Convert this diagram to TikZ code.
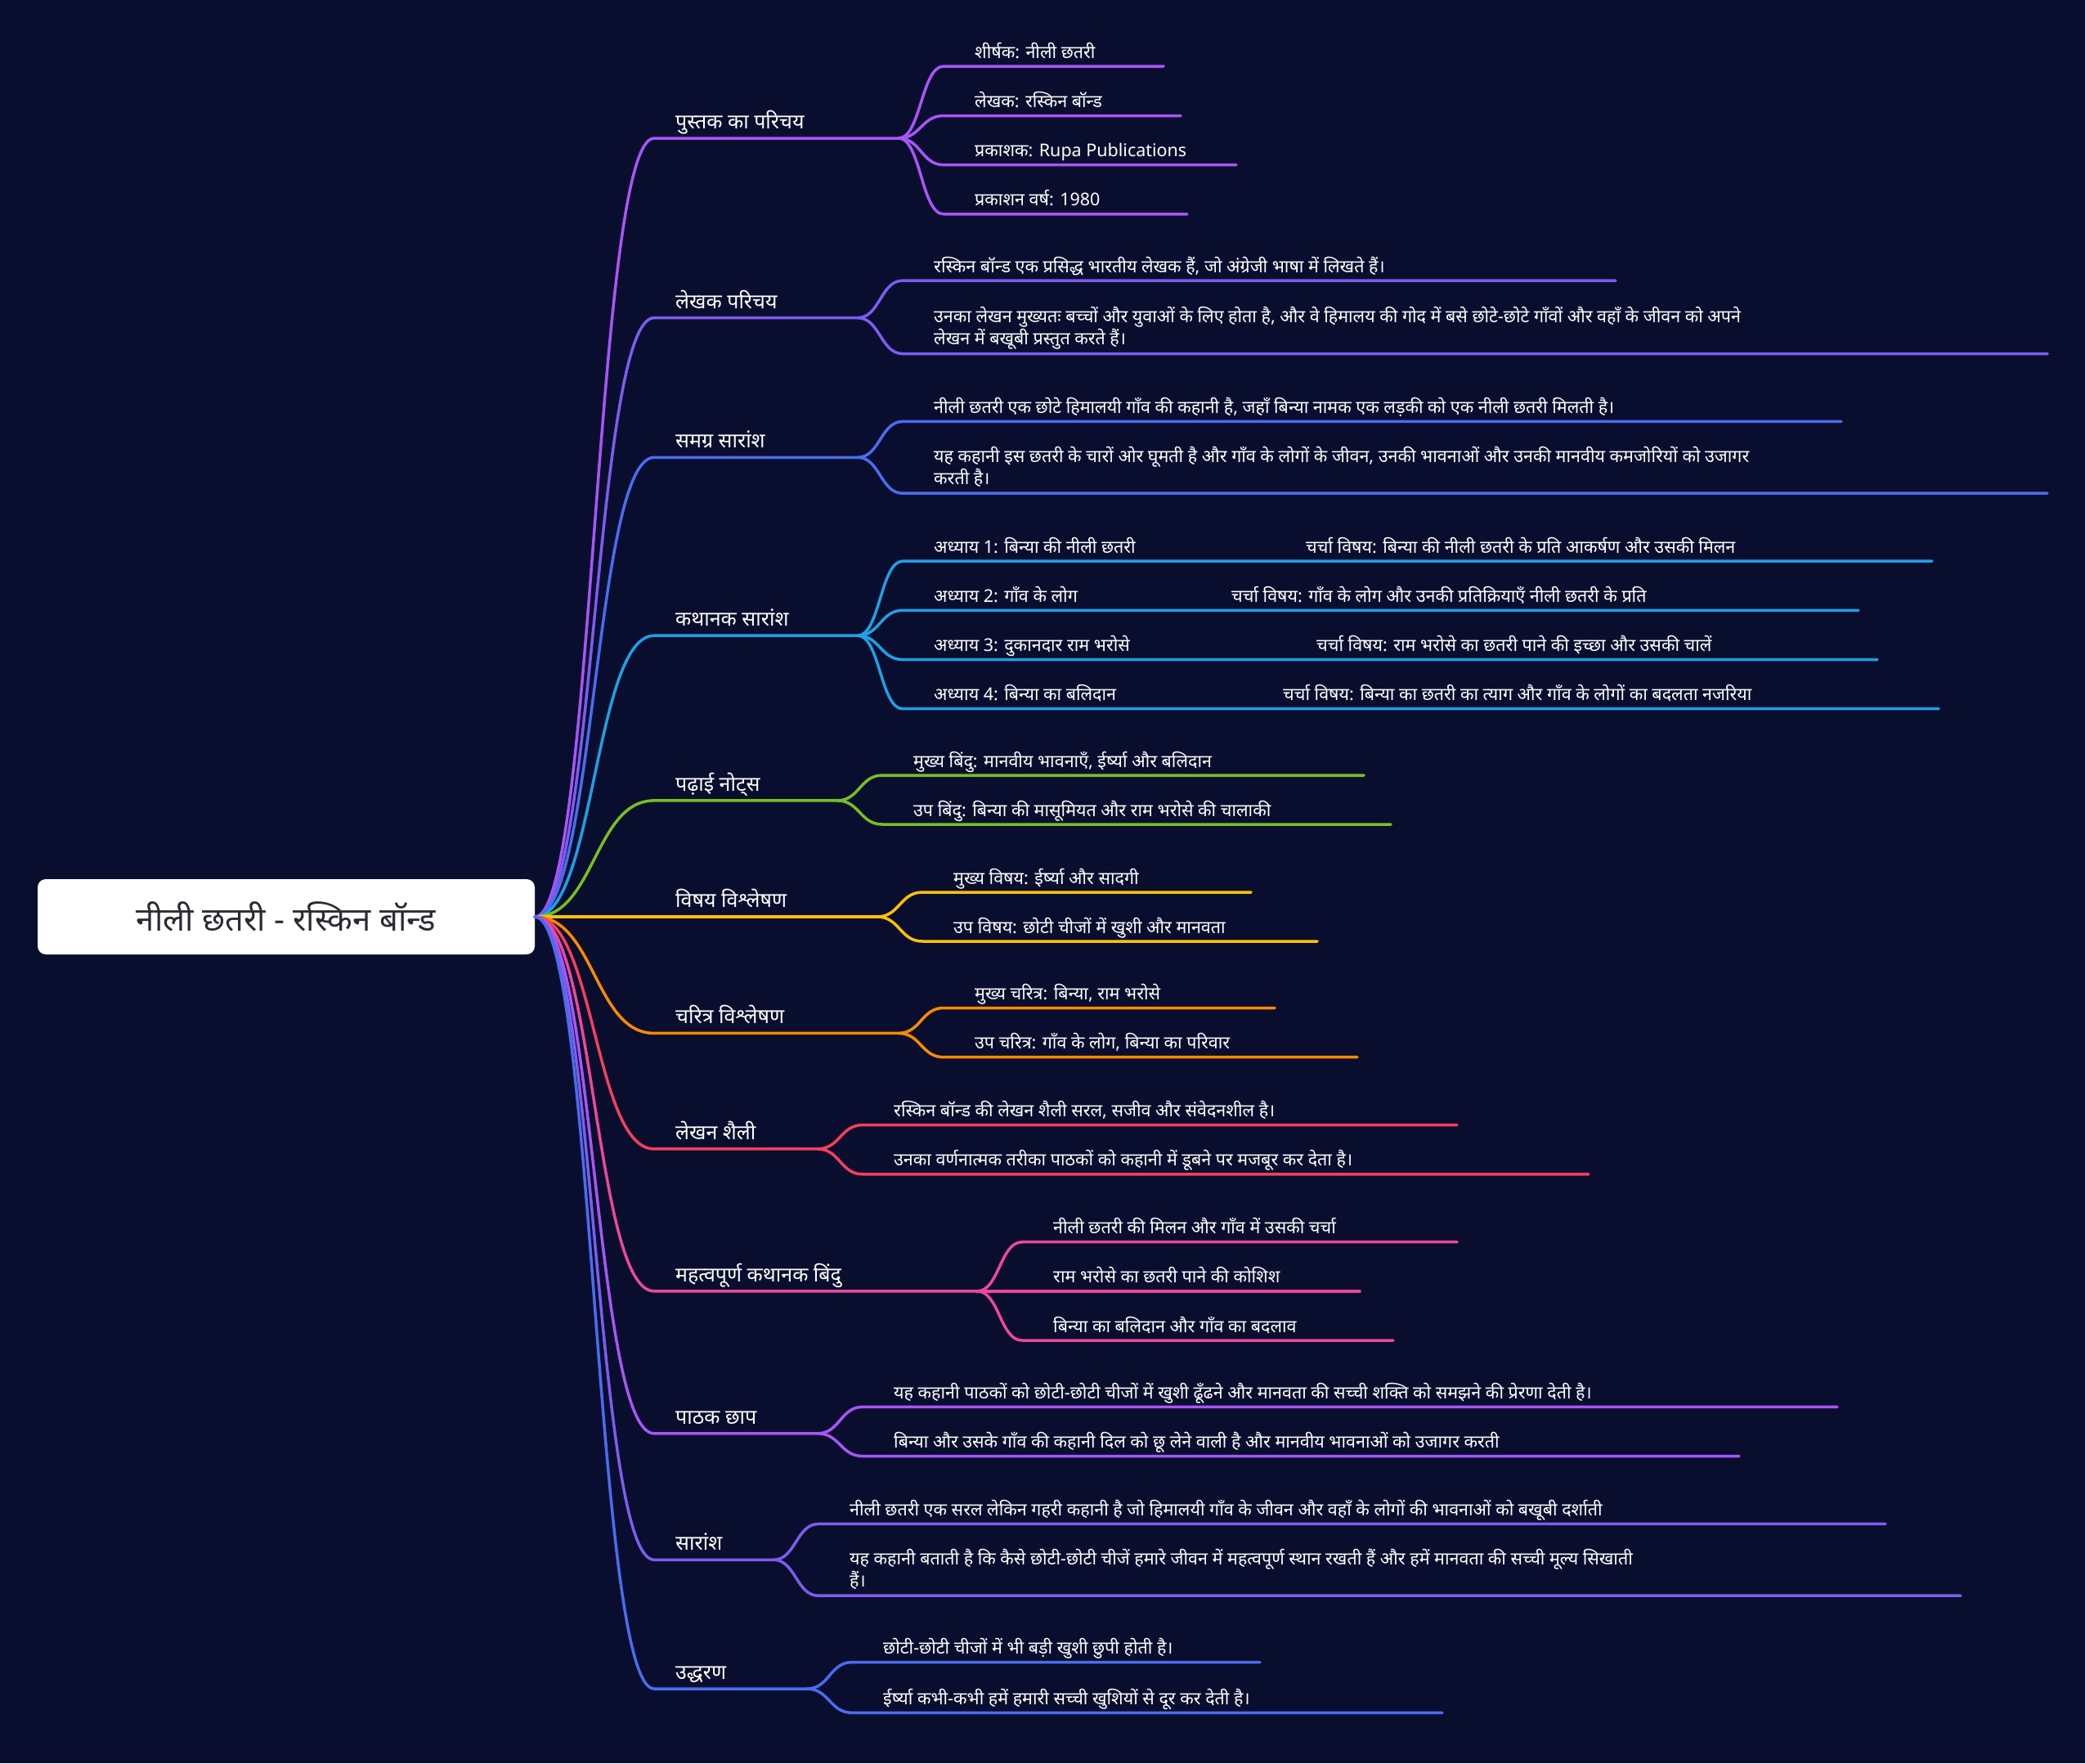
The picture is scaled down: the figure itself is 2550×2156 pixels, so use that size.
\documentclass[tikz,border=0pt]{standalone}
\usepackage{fontspec}
\newfontfamily\hin[Script=Devanagari]{Noto Sans}
\usetikzlibrary{calc}
\definecolor{bgc}{HTML}{0A0E2E}
\definecolor{rootc}{HTML}{2B2B33}
\definecolor{cA}{HTML}{A855F7}
\definecolor{cB}{HTML}{7C5CF0}
\definecolor{cC}{HTML}{4A6CF0}
\definecolor{cD}{HTML}{1EA0E6}
\definecolor{cE}{HTML}{76C023}
\definecolor{cF}{HTML}{FFC107}
\definecolor{cG}{HTML}{FF8A00}
\definecolor{cH}{HTML}{F43F5E}
\definecolor{cI}{HTML}{EC4899}
\definecolor{cJ}{HTML}{A855F7}
\definecolor{cK}{HTML}{7C5CF0}
\definecolor{cL}{HTML}{4A6CF0}
\tikzset{
  rootbox/.style={fill=white, rounded corners=10pt, minimum width=608pt, minimum height=92pt, inner sep=0pt,
    font=\hin\fontsize{40}{48}\selectfont, text=rootc},
  lone/.style={font=\hin\fontsize{25}{30}\selectfont, text=white, anchor=base west, inner sep=0pt},
  ltwo/.style={font=\hin\fontsize{21.5}{27}\selectfont, text=white, anchor=base west, inner sep=0pt},
  conn/.style={line width=3.5pt, line cap=round}
}
% level-1 branch: name, colour, underline y, fork x, text
\newcommand\brOne[5]{%
  \node[lone] (#1) at (826,#3-11.5) {#5};
  \coordinate (#1s) at (800,#3);
  \coordinate (#1f) at (#4,#3);
  \draw[conn,#2] (root.east) .. controls +(73,0) and +(-73,0) .. (#1s) -- (#1f);
}
% child: parent, name, colour, y, text, end x
\newcommand\chOne[6]{%
  \coordinate (#2s) at ($(#1f |- 0,#4)+(55,0)$);
  \node[ltwo] (#2) at ($(#2s)+(38,-10)$) {#5};
  \coordinate (#2e) at (#6,#4);
  \draw[conn,#3] (#1f) .. controls +(27,0) and +(-27,0) .. (#2s) -- (#2e);
}
% two-line child: parent, name, colour, y, line1, line2, end x
\newcommand\chTwo[7]{%
  \coordinate (#2s) at ($(#1f |- 0,#4)+(55,0)$);
  \node[ltwo] (#2) at ($(#2s)+(38,-38)$) {#5};
  \node[ltwo] (#2b) at ($(#2s)+(38,-11)$) {#6};
  \coordinate (#2e) at (#7,#4);
  \draw[conn,#3] (#1f) .. controls +(27,0) and +(-27,0) .. (#2s) -- (#2e);
}
% child with grandchild on same line: parent, name, colour, y, text, grandchild x, grandchild text, end x
\newcommand\chGrand[8]{%
  \coordinate (#2s) at ($(#1f |- 0,#4)+(55,0)$);
  \node[ltwo] (#2) at ($(#2s)+(38,-10)$) {#5};
  \node[ltwo] (#2g) at (#6,#4-10) {#7};
  \coordinate (#2e) at (#8,#4);
  \draw[conn,#3] (#1f) .. controls +(27,0) and +(-27,0) .. (#2s) -- (#2e);
}
\begin{document}
\begin{tikzpicture}[x=1pt,y=-1pt]
\useasboundingbox (0,0) rectangle (2550,2156);
\fill[bgc] (0,0) rectangle (2550,2156);
\node[rootbox] (root) at (350,1121) {नीली छतरी - रस्किन बॉन्ड};

\brOne{bA}{cA}{169}{1099}{पुस्तक का परिचय}
\chOne{bA}{aA}{cA}{81}{शीर्षक: नीली छतरी}{1423}
\chOne{bA}{aB}{cA}{141.5}{लेखक: रस्किन बॉन्ड}{1444}
\chOne{bA}{aC}{cA}{201.6}{प्रकाशक: Rupa Publications}{1512}
\chOne{bA}{aD}{cA}{261.8}{प्रकाशन वर्ष: 1980}{1452}

\brOne{bB}{cB}{388.6}{1049}{लेखक परिचय}
\chOne{bB}{bBa}{cB}{343.1}{रस्किन बॉन्ड एक प्रसिद्ध भारतीय लेखक हैं, जो अंग्रेजी भाषा में लिखते हैं।}{1976}
\chTwo{bB}{bBb}{cB}{432.5}{उनका लेखन मुख्यतः बच्चों और युवाओं के लिए होता है, और वे हिमालय की गोद में बसे छोटे-छोटे गाँवों और वहाँ के जीवन को अपने}{लेखन में बखूबी प्रस्तुत करते हैं।}{2504}

\brOne{bC}{cC}{559.3}{1049}{समग्र सारांश}
\chOne{bC}{bCa}{cC}{515.4}{नीली छतरी एक छोटे हिमालयी गाँव की कहानी है, जहाँ बिन्या नामक एक लड़की को एक नीली छतरी मिलती है।}{2252}
\chTwo{bC}{bCb}{cC}{603.2}{यह कहानी इस छतरी के चारों ओर घूमती है और गाँव के लोगों के जीवन, उनकी भावनाओं और उनकी मानवीय कमजोरियों को उजागर}{करती है।}{2504}

\brOne{bD}{cD}{777.2}{1049}{कथानक सारांश}
\chGrand{bD}{bDa}{cD}{686.2}{अध्याय 1: बिन्या की नीली छतरी}{1597}{चर्चा विषय: बिन्या की नीली छतरी के प्रति आकर्षण और उसकी मिलन}{2363}
\chGrand{bD}{bDb}{cD}{746.3}{अध्याय 2: गाँव के लोग}{1506}{चर्चा विषय: गाँव के लोग और उनकी प्रतिक्रियाएँ नीली छतरी के प्रति}{2273}
\chGrand{bD}{bDc}{cD}{806.5}{अध्याय 3: दुकानदार राम भरोसे}{1610}{चर्चा विषय: राम भरोसे का छतरी पाने की इच्छा और उसकी चालें}{2296}
\chGrand{bD}{bDd}{cD}{866.7}{अध्याय 4: बिन्या का बलिदान}{1569}{चर्चा विषय: बिन्या का छतरी का त्याग और गाँव के लोगों का बदलता नजरिया}{2371}

\brOne{bE}{cE}{978.9}{1024}{पढ़ाई नोट्स}
\chOne{bE}{bEa}{cE}{948}{मुख्य बिंदु: मानवीय भावनाएँ, ईर्ष्या और बलिदान}{1668}
\chOne{bE}{bEb}{cE}{1008}{उप बिंदु: बिन्या की मासूमियत और राम भरोसे की चालाकी}{1701}

\brOne{bF}{cF}{1121}{1073}{विषय विश्लेषण}
\chOne{bF}{bFa}{cF}{1091}{मुख्य विषय: ईर्ष्या और सादगी}{1530}
\chOne{bF}{bFb}{cF}{1151}{उप विषय: छोटी चीजों में खुशी और मानवता}{1611}

\brOne{bG}{cG}{1263.4}{1099}{चरित्र विश्लेषण}
\chOne{bG}{bGa}{cG}{1232.5}{मुख्य चरित्र: बिन्या, राम भरोसे}{1559}
\chOne{bG}{bGb}{cG}{1292.7}{उप चरित्र: गाँव के लोग, बिन्या का परिवार}{1660}

\brOne{bH}{cH}{1404.9}{1000}{लेखन शैली}
\chOne{bH}{bHa}{cH}{1375.6}{रस्किन बॉन्ड की लेखन शैली सरल, सजीव और संवेदनशील है।}{1782}
\chOne{bH}{bHb}{cH}{1435.8}{उनका वर्णनात्मक तरीका पाठकों को कहानी में डूबने पर मजबूर कर देता है।}{1943}

\brOne{bI}{cI}{1578.8}{1195}{महत्वपूर्ण कथानक बिंदु}
\chOne{bI}{bIa}{cI}{1518.7}{नीली छतरी की मिलन और गाँव में उसकी चर्चा}{1782}
\chOne{bI}{bIb}{cI}{1578.8}{राम भरोसे का छतरी पाने की कोशिश}{1663}
\chOne{bI}{bIc}{cI}{1639}{बिन्या का बलिदान और गाँव का बदलाव}{1704}

\brOne{bJ}{cJ}{1752.8}{1000}{पाठक छाप}
\chOne{bJ}{bJa}{cJ}{1720.3}{यह कहानी पाठकों को छोटी-छोटी चीजों में खुशी ढूँढने और मानवता की सच्ची शक्ति को समझने की प्रेरणा देती है।}{2247}
\chOne{bJ}{bJb}{cJ}{1780.5}{बिन्या और उसके गाँव की कहानी दिल को छू लेने वाली है और मानवीय भावनाओं को उजागर करती}{2127}

\brOne{bK}{cK}{1907.3}{946}{सारांश}
\chOne{bK}{bKa}{cK}{1863.4}{नीली छतरी एक सरल लेकिन गहरी कहानी है जो हिमालयी गाँव के जीवन और वहाँ के लोगों की भावनाओं को बखूबी दर्शाती}{2306}
\chTwo{bK}{bKb}{cK}{1951.2}{यह कहानी बताती है कि कैसे छोटी-छोटी चीजें हमारे जीवन में महत्वपूर्ण स्थान रखती हैं और हमें मानवता की सच्ची मूल्य सिखाती}{हैं।}{2398}

\brOne{bL}{cL}{2065}{987}{उद्धरण}
\chOne{bL}{bLa}{cL}{2032.5}{छोटी-छोटी चीजों में भी बड़ी खुशी छुपी होती है।}{1541}
\chOne{bL}{bLb}{cL}{2094.3}{ईर्ष्या कभी-कभी हमें हमारी सच्ची खुशियों से दूर कर देती है।}{1764}
\end{tikzpicture}
\end{document}
